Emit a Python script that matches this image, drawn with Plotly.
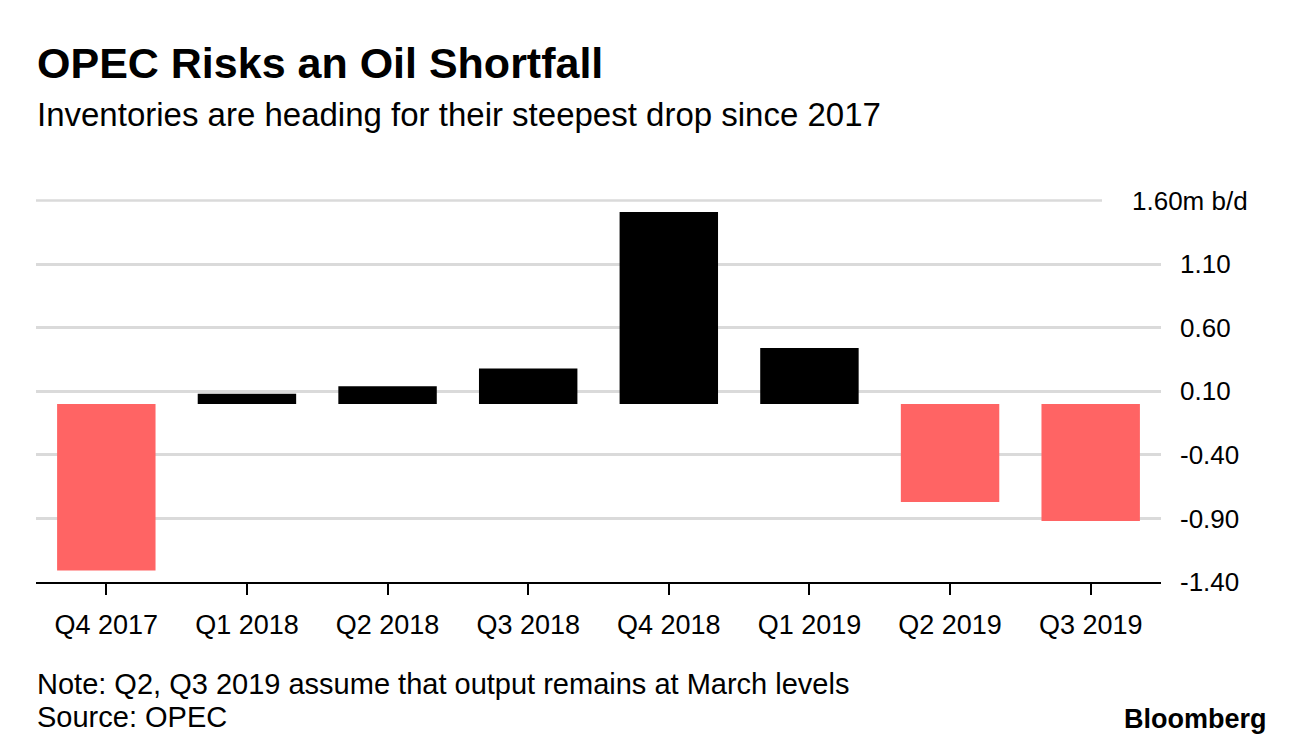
import plotly.graph_objects as go

categories = ["Q4 2017", "Q1 2018", "Q2 2018", "Q3 2018", "Q4 2018", "Q1 2019", "Q2 2019", "Q3 2019"]
values = [-1.31, 0.08, 0.14, 0.28, 1.51, 0.44, -0.77, -0.92]
y_tickvals = [1.6, 1.1, 0.6, 0.1, -0.4, -0.9, -1.4]
y_ticktext = ["1.60m b/d", "1.10", "0.60", "0.10", "-0.40", "-0.90", "-1.40"]

POS_COLOR = "#000000"
NEG_COLOR = "#ff6464"
FONT = "Liberation Sans"

W, H = 1296, 750
OFF = 8  # page body margin
Y_TOP = 1.62  # small headroom so the top gridline is not clipped
L, T = 36 - OFF, 197.5 - OFF
PW, PH = 1125, 384.5
R = W - L - PW
B = H - T - PH


def px_x(px):
    return (px - OFF - L) / PW


def px_y(py):
    return (T + PH + OFF - py) / PH


fig = go.Figure()
fig.add_trace(go.Bar(
    x=categories,
    y=values,
    marker=dict(color=[POS_COLOR if v >= 0 else NEG_COLOR for v in values], line=dict(width=0)),
    width=0.7,
    hoverinfo="x+y",
))

# top gridline (shorter, to make room for the unit label)
fig.add_shape(type="line", xref="paper", yref="y", x0=0, x1=px_x(1102),
              y0=y_tickvals[0], y1=y_tickvals[0], line=dict(color="#dadada", width=2.5), layer="below")

fig.update_layout(
    width=W, height=H,
    margin=dict(l=L, r=R, t=T, b=B),
    paper_bgcolor="white", plot_bgcolor="white",
    showlegend=False,
    font=dict(family=FONT, color="#000000"),
    xaxis=dict(
        type="category",
        range=[-0.5, len(categories) - 0.5],
        showgrid=False,
        showline=True, linecolor="#000000", linewidth=2,
        ticks="outside", ticklen=11, tickwidth=2, tickcolor="#000000",
        ticklabelstandoff=7,
        tickfont=dict(size=27, family=FONT, color="#000000"),
        zeroline=False,
    ),
    yaxis=dict(
        side="right",
        range=[y_tickvals[-1], Y_TOP],
        tickvals=y_tickvals[1:],
        ticktext=y_ticktext[1:],
        showgrid=True, gridcolor="#dadada", gridwidth=2.5,
        zeroline=False, showline=False,
        ticks="", ticklabelstandoff=18,
        tickfont=dict(size=26, family=FONT, color="#000000"),
    ),
    bargap=0.3,
)

annotations = [
    dict(text="<b>OPEC Risks an Oil Shortfall</b>", x=px_x(35), y=px_y(36), xanchor="left", yanchor="top",
         font=dict(size=43, family=FONT, color="#000000")),
    dict(text="Inventories are heading for their steepest drop since 2017", x=px_x(35), y=px_y(93),
         xanchor="left", yanchor="top", font=dict(size=33, family=FONT, color="#000000")),
    dict(text=y_ticktext[0], x=px_x(1250), y=y_tickvals[0], yref="y", xanchor="right", yanchor="middle",
         font=dict(size=26, family=FONT, color="#000000")),
    dict(text="Note: Q2, Q3 2019 assume that output remains at March levels", x=px_x(35), y=px_y(666),
         xanchor="left", yanchor="top", font=dict(size=29, family=FONT, color="#000000")),
    dict(text="Source: OPEC", x=px_x(35), y=px_y(699), xanchor="left", yanchor="top",
         font=dict(size=29, family=FONT, color="#000000")),
    dict(text="<b>Bloomberg</b>", x=px_x(1269), y=px_y(702), xanchor="right", yanchor="top",
         font=dict(size=27, family=FONT, color="#000000")),
]
for a in annotations:
    a.setdefault("xref", "paper")
    a.setdefault("yref", "paper")
    a["showarrow"] = False
    fig.add_annotation(**a)

fig.write_html("out.html")
